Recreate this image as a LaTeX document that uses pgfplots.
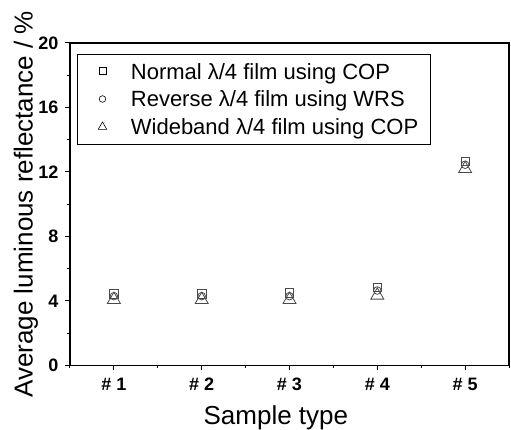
\documentclass[border=0pt]{standalone}
\usepackage{fontspec}
\setmainfont{Liberation Sans}
\usepackage{pgfplots}
\pgfplotsset{compat=1.18}
\definecolor{mk}{HTML}{4A4A4A}
\begin{document}
\begin{tikzpicture}
\begin{axis}[
  scale only axis,
  width=439pt, height=322.5pt,
  xmin=0.5, xmax=5.5, ymin=0, ymax=20,
  xtick={1,2,3,4,5},
  xticklabels={\# 1,\# 2,\# 3,\# 4,\# 5},
  minor xtick={0.5,1.5,2.5,3.5,4.5,5.5},
  ytick={0,4,8,12,16,20},
  minor ytick={2,6,10,14,18},
  tick pos=left,
  tick align=outside,
  major tick length=5pt,
  minor tick length=3pt,
  axis line style={line width=1.4pt},
  every tick/.style={black, line width=1pt},
  /pgf/number format/assume math mode=true,
  ticklabel style={font=\fontsize{18}{20}\selectfont\bfseries},
  xticklabel style={yshift=-4pt},
  yticklabel style={xshift=-3pt},
  every axis x label/.style={at={([yshift=-52pt]axis description cs:0.469,0)}, anchor=center},
  every axis y label/.style={at={([xshift=-44pt]axis description cs:0,0.5)}, anchor=center, rotate=90},
  label style={font=\fontsize{26}{30}\selectfont},
  xlabel={Sample type},
  ylabel={Average luminous reflectance / \%},
  legend cell align=left,
  legend image code/.code={\path (-19pt,0pt) (26pt,0pt); \draw[#1] plot coordinates {(0pt,0pt)};},
  legend style={at={(axis description cs:0,1)}, anchor=north west,
    xshift=6.7pt, yshift=-10.7pt, draw=black, line width=0.8pt,
    font=\fontsize{22}{26}\selectfont, row sep=8pt,
    nodes={text depth=0pt},
    inner xsep=6pt, inner ysep=7pt},
]
\addplot[only marks, mark=square, mark size=4.2pt, mk, mark options={line width=0.8pt}, forget plot]
  coordinates {(1,4.45) (2,4.45) (3,4.5) (4,4.85) (5,12.65)};
\addplot[only marks, mark=o, mark size=3.8pt, mk, mark options={line width=0.8pt}, forget plot]
  coordinates {(1,4.3) (2,4.3) (3,4.3) (4,4.65) (5,12.45)};
\addplot[only marks, mark=triangle, mark size=7.5pt, mk, mark options={line width=0.8pt}, forget plot]
  coordinates {(1,4.08) (2,4.08) (3,4.08) (4,4.35) (5,12.2)};
\addlegendimage{only marks, mark=square, mark size=3.3pt, black, mark options={line width=0.6pt}}
\addlegendentry{Normal λ/4 film using COP}
\addlegendimage{only marks, mark=o, mark size=3.3pt, black, mark options={line width=0.6pt}}
\addlegendentry{Reverse λ/4 film using WRS}
\addlegendimage{only marks, mark=triangle, mark size=5pt, black, mark options={line width=0.6pt}}
\addlegendentry{Wideband λ/4 film using COP\hspace*{4pt}}
\end{axis}
\pgfresetboundingbox
\path ([xshift=-70pt,yshift=-64.3pt]current axis.south west) rectangle ([xshift=2pt,yshift=43pt]current axis.north east);
\end{tikzpicture}
\end{document}
